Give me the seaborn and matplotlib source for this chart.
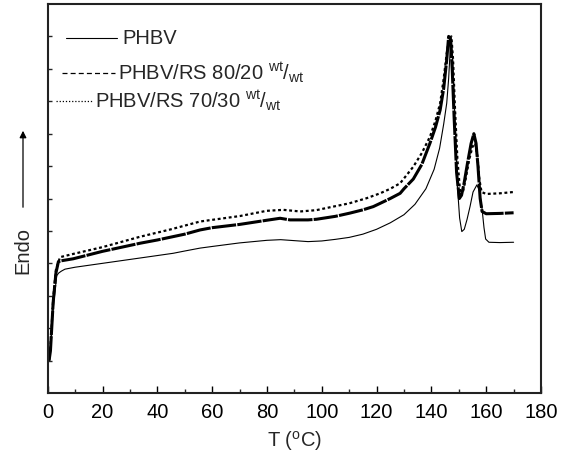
import numpy as np
import pandas as pd
import matplotlib
matplotlib.use("Agg")
import matplotlib.pyplot as plt
from matplotlib.lines import Line2D
from matplotlib.ticker import MultipleLocator
import seaborn as sns

# ---- data ----
t_phbv = [0.5, 1.0, 2.0, 3.0, 3.3, 4.0, 5.0, 6.3, 10, 20, 30, 40, 45.8, 50, 55.6, 60, 70, 80, 85, 90, 95,
          100, 105, 110, 115, 120, 125, 130, 134, 138, 141, 143, 144.5, 145.6, 146.3, 146.8, 147.2,
          147.8, 148.6, 149.5, 150.3, 151.1, 152, 153, 154.1, 155.2, 156.6, 157.5, 158.4, 159.2,
          159.8, 161, 165, 170]
y_phbv = [1.0, 1.3, 2.6, 3.4, 3.62, 3.7, 3.76, 3.82, 3.88, 4.0, 4.12, 4.24, 4.31, 4.38, 4.47, 4.52, 4.63,
          4.71, 4.73, 4.70, 4.67, 4.69, 4.74, 4.80, 4.90, 5.05, 5.25, 5.50, 5.82, 6.30, 6.90, 7.55,
          8.30, 8.94, 9.70, 10.48, 11.0, 10.2, 8.43, 6.37, 5.4, 4.98, 5.05, 5.35, 5.75, 6.2, 6.42,
          6.25, 5.75, 5.1, 4.75, 4.65, 4.64, 4.65]

t_rs80 = [0.5, 1.0, 2.0, 3.0, 3.9, 5.0, 9.3, 20, 33.7, 40, 50, 55.6, 60, 70, 80, 84.8, 88.4, 95, 98.1,
          105, 110.3, 115, 118.8, 121.3, 125, 128.6, 130, 133.4, 136.5, 139.5, 141.5, 143.2, 144.5,
          145.6, 146.3, 147.0, 147.6, 148.3, 149.2, 150.2, 151.0, 152.0, 153.2, 154.5, 155.5, 156.3,
          157.0, 157.8, 158.5, 160, 165, 170]
y_rs80 = [1.0, 1.3, 2.8, 3.7, 4.05, 4.08, 4.14, 4.37, 4.62, 4.72, 4.90, 5.03, 5.10, 5.20, 5.33, 5.39,
          5.34, 5.34, 5.36, 5.45, 5.55, 5.65, 5.75, 5.85, 6.0, 6.16, 6.3, 6.6, 7.05, 7.71, 8.2, 8.73,
          9.4, 10.28, 11.0, 10.9, 10.0, 8.5, 6.8, 6.0, 6.1, 6.5, 7.1, 7.7, 8.0, 7.7, 7.0, 6.0, 5.6,
          5.53, 5.54, 5.56]

t_rs70 = [0.5, 1.0, 2.0, 3.0, 4.5, 9.3, 20, 33.7, 45, 55.6, 70.2, 79.9, 86, 92.1, 98, 104.2, 110,
          116.4, 121.3, 125, 128.6, 133.4, 136.5, 139.5, 141.5, 143.2, 144.5, 145.6, 146.5, 147.3,
          147.9, 148.6, 149.5, 150.6, 151.5, 152.5, 153.8, 155.0, 156.0, 156.8, 157.5, 158.3, 160,
          165, 170]
y_rs70 = [1.0, 1.4, 2.9, 3.8, 4.19, 4.29, 4.5, 4.82, 5.05, 5.29, 5.46, 5.62, 5.65, 5.60, 5.64, 5.75,
          5.85, 6.01, 6.16, 6.30, 6.47, 6.98, 7.40, 7.91, 8.40, 8.94, 9.70, 10.48, 10.95, 11.0, 10.3,
          8.8, 7.2, 6.1, 6.2, 6.6, 7.2, 7.6, 7.7, 7.3, 6.6, 6.2, 6.14, 6.16, 6.2]

labels = ["PHBV",
          "PHBV/RS 80/20 $^{\\mathregular{wt}}$/$_{\\mathregular{wt}}$",
          "PHBV/RS 70/30 $^{\\mathregular{wt}}$/$_{\\mathregular{wt}}$"]
x_ticks = [0, 20, 40, 60, 80, 100, 120, 140, 160, 180]

# ---- style ----
sns.set_style("ticks")
plt.rcParams["font.family"] = ["Liberation Sans", "DejaVu Sans"]
plt.rcParams["mathtext.fontset"] = "custom"
plt.rcParams["mathtext.rm"] = "Liberation Sans"
plt.rcParams["mathtext.it"] = "Liberation Sans:italic"

FS = 14.5
W, H = 570, 461
fig = plt.figure(figsize=(W / 100, H / 100), dpi=100)
ax = fig.add_axes([47.7 / W, 1 - 393 / H, (541 - 47.7) / W, (393 - 4) / H])

df1 = pd.DataFrame({"T": t_phbv, "y": y_phbv})
df2 = pd.DataFrame({"T": t_rs80, "y": y_rs80})
df3 = pd.DataFrame({"T": t_rs70, "y": y_rs70})

sns.lineplot(data=df1, x="T", y="y", ax=ax, color="black", linewidth=0.8, estimator=None, sort=False)
sns.lineplot(data=df2, x="T", y="y", ax=ax, color="black", linewidth=2.2, estimator=None, sort=False,
             linestyle=(0, (8, 0.4)))
sns.lineplot(data=df3, x="T", y="y", ax=ax, color="black", linewidth=1.6, estimator=None, sort=False,
             linestyle=(0, (1.3, 1.2)))

ax.set_xlim(0, 180)
ax.set_ylim(0, 12.0)
ax.set_xticks(x_ticks)
ax.xaxis.set_minor_locator(MultipleLocator(10))
ax.set_yticks(np.arange(1, 12))
ax.set_yticklabels([])
ax.tick_params(axis="x", which="major", direction="in", length=5, width=1.0, labelsize=FS,
               colors="black", pad=7)
ax.tick_params(axis="x", which="minor", direction="in", length=3, width=1.0)
ax.tick_params(axis="y", which="major", direction="in", length=3, width=1.0)
for s in ax.spines.values():
    s.set_visible(True)
    s.set_linewidth(1.5)
    s.set_color("#222222")
ax.set_xlabel("T ($^{\\mathregular{o}}$C)", fontsize=FS, labelpad=5)
ax.set_ylabel("")

# legend, drawn as in the reference (staggered entries)
def fx(px):
    return px / W
def fy(py):
    return 1 - py / H

fig.add_artist(Line2D([fx(66), fx(117)], [fy(38), fy(38)], color="black", lw=0.8))
fig.text(fx(122), fy(38), labels[0], fontsize=FS, va="center", ha="left")
fig.add_artist(Line2D([fx(62), fx(115)], [fy(73), fy(73)], color="black", lw=0.9,
                      linestyle=(0, (4, 2.5))))
fig.text(fx(118), fy(73), labels[1], fontsize=FS, va="center", ha="left")
fig.add_artist(Line2D([fx(56), fx(92)], [fy(101), fy(101)], color="black", lw=0.9,
                      linestyle=(0, (1, 1.5))))
fig.text(fx(95), fy(101), labels[2], fontsize=FS, va="center", ha="left")

# Endo label with arrow
fig.text(fx(23), fy(250), "Endo", rotation=90, fontsize=FS, ha="center", va="center")
fig.add_artist(matplotlib.patches.FancyArrowPatch((fx(23), fy(210)), (fx(23), fy(128)),
                                                  transform=fig.transFigure, arrowstyle="-|>",
                                                  mutation_scale=10, color="black", lw=0.9))

fig.savefig("out.png", dpi=100)
